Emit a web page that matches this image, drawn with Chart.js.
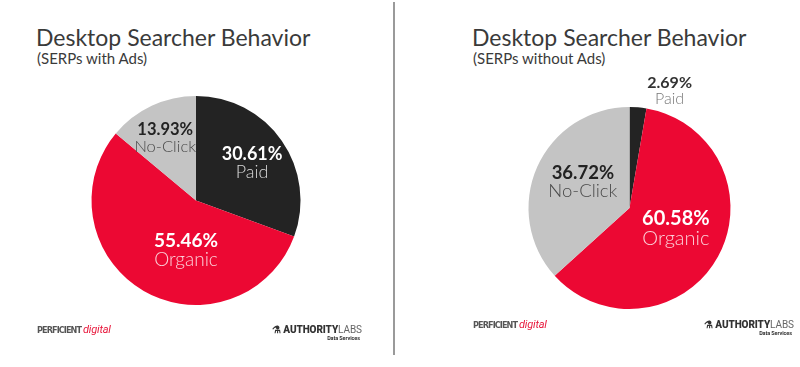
<!DOCTYPE html>
<html lang="en">
  <head>
    <meta charset="UTF-8" />
    <title>Desktop Searcher Behavior</title>
    <script src="https://cdn.jsdelivr.net/npm/chart.js"></script>
    <style>
      body {
        margin: 0;
        width: 800px;
        height: 367px;
        background: #ffffff;
        font-family: Lato, sans-serif;
        position: relative;
        overflow: hidden;
      }
      .panel {
        position: absolute;
        top: 0;
        height: 367px;
      }
      .panel canvas {
        position: absolute;
        left: 0;
        top: 0;
      }
      .title {
        position: absolute;
        top: 24px;
        font-size: 23px;
        line-height: 26px;
        color: #3a3a3a;
        white-space: nowrap;
      }
      .subtitle {
        position: absolute;
        top: 49px;
        font-size: 15px;
        line-height: 18px;
        color: #3a3a3a;
        white-space: nowrap;
      }
      .divider {
        position: absolute;
        left: 393px;
        top: 2px;
        width: 2px;
        height: 353px;
        background: #9a9a9a;
      }
      .perficient {
        position: absolute;
        font-family: "DejaVu Sans Condensed", sans-serif;
        font-weight: bold;
        font-size: 9px;
        color: #555;
        white-space: nowrap;
        letter-spacing: -0.9px;
      }
      .perficient span {
        color: #e8173b;
        font-family: Roboto, sans-serif;
        font-style: italic;
        font-weight: normal;
        font-size: 11px;
        letter-spacing: -0.2px;
        margin-left: 2px;
      }
      .alabs {
        position: absolute;
        font-family: Roboto, sans-serif;
        font-size: 10px;
        font-weight: 900;
        color: #333;
        white-space: nowrap;
        text-align: right;
        line-height: 10px;
        letter-spacing: -0.1px;
      }
      .alabs .labs {
        font-weight: 400;
        color: #666;
      }
      .alabs .ds {
        display: block;
        font-size: 5.5px;
        font-weight: bold;
        line-height: 7px;
        margin-right: 2px;
      }
    </style>
  </head>
  <body>
    <div class="title" style="left: 36px">Desktop Searcher Behavior</div>
    <div class="subtitle" style="left: 37px">(SERPs with Ads)</div>
    <div class="title" style="left: 472px">Desktop Searcher Behavior</div>
    <div class="subtitle" style="left: 473px">(SERPs without Ads)</div>

    <div class="panel" style="left: 0; width: 392px">
      <canvas id="withAds" width="392" height="367"></canvas>
    </div>
    <div class="panel" style="left: 400px; width: 400px">
      <canvas id="withoutAds" width="400" height="367"></canvas>
    </div>

    <div class="divider"></div>

    <div class="perficient" style="left: 37px; top: 323px">PERFICIENT<span>digital</span></div>
    <div class="alabs" style="left: 272px; top: 325px">&#9879; AUTHORITY<span class="labs">LABS</span><span class="ds">Data Services</span></div>
    <div class="perficient" style="left: 473px; top: 318px">PERFICIENT<span>digital</span></div>
    <div class="alabs" style="left: 704px; top: 320px">&#9879; AUTHORITY<span class="labs">LABS</span><span class="ds">Data Services</span></div>

    <script>
      // slice order, starting at 12 o'clock and going clockwise
      const sliceNames = ["Paid", "Organic", "No-Click"];
      const withAdsValues = [30.61, 55.46, 13.93];
      const withoutAdsValues = [2.69, 60.58, 36.72];
      const sliceColors = ["#232323", "#ec0833", "#c4c4c4"];

      // label plugin: two lines (value + name) placed along each slice
      const sliceLabelPlugin = {
        id: "sliceLabels",
        afterDatasetsDraw(chart, args, opts) {
          const ctx = chart.ctx;
          const meta = chart.getDatasetMeta(0);
          const values = chart.data.datasets[0].data;
          meta.data.forEach((arc, i) => {
            const p = opts.place[i];
            const a = (arc.startAngle + arc.endAngle) / 2 + (p.shift * Math.PI) / 180;
            const r = arc.outerRadius * p.f;
            const x = arc.x + Math.cos(a) * r;
            const y = arc.y + Math.sin(a) * r;
            ctx.save();
            ctx.textAlign = "center";
            ctx.textBaseline = "alphabetic";
            ctx.fillStyle = p.c1;
            ctx.font = "bold " + p.size + "px Lato";
            ctx.fillText(values[i].toFixed(2) + "%", x, y - 0.15 * p.size);
            ctx.fillStyle = p.c2;
            ctx.font = "300 " + p.size + "px Lato";
            ctx.fillText(chart.data.labels[i], x, y + 0.85 * p.size);
            ctx.restore();
          });
        },
      };

      function makePie(id, values, padding, place) {
        return new Chart(document.getElementById(id), {
          type: "pie",
          data: {
            labels: sliceNames,
            datasets: [
              {
                data: values,
                backgroundColor: sliceColors,
                borderWidth: 0,
                hoverOffset: 0,
              },
            ],
          },
          options: {
            responsive: false,
            animation: false,
            layout: { padding: padding },
            plugins: {
              legend: { display: false },
              tooltip: { enabled: false },
              sliceLabels: { place: place },
            },
          },
          plugins: [sliceLabelPlugin],
        });
      }

      makePie(
        "withAds",
        withAdsValues,
        { left: 91.5, right: 91.5, top: 96, bottom: 62 },
        [
          { f: 0.647, shift: 1, size: 18, c1: "#ffffff", c2: "#d8d8d8" },
          { f: 0.48, shift: -18.5, size: 19, c1: "#ffffff", c2: "#fbd0d8" },
          { f: 0.67, shift: -1, size: 16.5, c1: "#222222", c2: "#4a4a4a" },
        ]
      );

      makePie(
        "withoutAds",
        withoutAdsValues,
        { left: 128.5, right: 69.5, top: 107, bottom: 58 },
        [
          { f: 1.23, shift: 14, size: 16, c1: "#333333", c2: "#777777" },
          { f: 0.5, shift: -5.4, size: 20, c1: "#ffffff", c2: "#fbd0d8" },
          { f: 0.53, shift: 5.5, size: 18.5, c1: "#222222", c2: "#4a4a4a" },
        ]
      );
    </script>
  </body>
</html>
